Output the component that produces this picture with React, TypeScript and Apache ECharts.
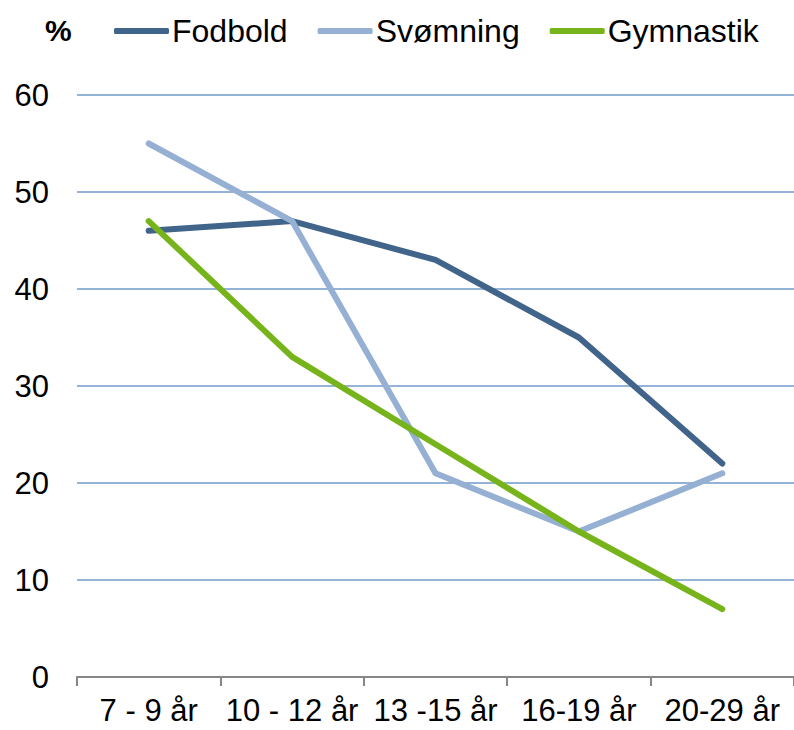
import React, { useEffect, useRef } from "react";
import * as echarts from "echarts";

const categories = ["7 - 9 år", "10 - 12 år", "13 -15 år", "16-19 år", "20-29 år"];
const fodbold = [46, 47, 43, 35, 22];
const svomning = [55, 47, 21, 15, 21];
const gymnastik = [47, 33, 24, 15, 7];
const seriesNames = ["Fodbold", "Svømning", "Gymnastik"];
const seriesColors = ["#41648a", "#95b0d3", "#77b41c"];

const FONT = "'Liberation Sans', Arial, sans-serif";

export default function App() {
  const ref = useRef<HTMLDivElement>(null);
  useEffect(() => {
    if (!ref.current) return;
    const chart = echarts.init(ref.current, null, { renderer: "svg" });
    const data = [fodbold, svomning, gymnastik];
    chart.setOption({
      animation: false,
      textStyle: { fontFamily: FONT },
      graphic: [
        {
          type: "text",
          x: 45,
          y: 30,
          style: {
            text: "%",
            font: `bold 30px ${FONT}`,
            fill: "#000",
            verticalAlign: "middle",
            align: "left",
          },
        },
      ],
      legend: {
        left: 109,
        top: 10,
        itemWidth: 55,
        itemHeight: 6,
        itemGap: 30,
        icon: "roundRect",
        textStyle: { fontSize: 32, color: "#000", fontFamily: FONT, padding: [0, 0, 0, -2] },
        data: seriesNames,
      },
      grid: { left: 77, right: -3, top: 95, bottom: 53 },
      xAxis: {
        type: "category",
        data: categories,
        boundaryGap: true,
        axisLine: { lineStyle: { color: "#868686", width: 2 } },
        axisTick: { show: true, length: 9, lineStyle: { color: "#868686", width: 2 } },
        axisLabel: { fontSize: 31, color: "#000", margin: 18, fontFamily: FONT, interval: 0 },
        splitLine: { show: false },
      },
      yAxis: {
        type: "value",
        min: 0,
        max: 60,
        interval: 10,
        axisLine: { show: false },
        axisTick: { show: false },
        axisLabel: { fontSize: 31, color: "#000", margin: 28, fontFamily: FONT },
        splitLine: { lineStyle: { color: "#95b3d7", width: 2 } },
      },
      series: seriesNames.map((name, i) => ({
        name,
        type: "line",
        data: data[i],
        symbol: "none",
        color: seriesColors[i],
        lineStyle: { width: 6, color: seriesColors[i], cap: "round", join: "round" },
      })),
    });
    return () => chart.dispose();
  }, []);
  return <div ref={ref} style={{ width: 794, height: 730, position: "absolute", left: 0, top: 0 }} />;
}
